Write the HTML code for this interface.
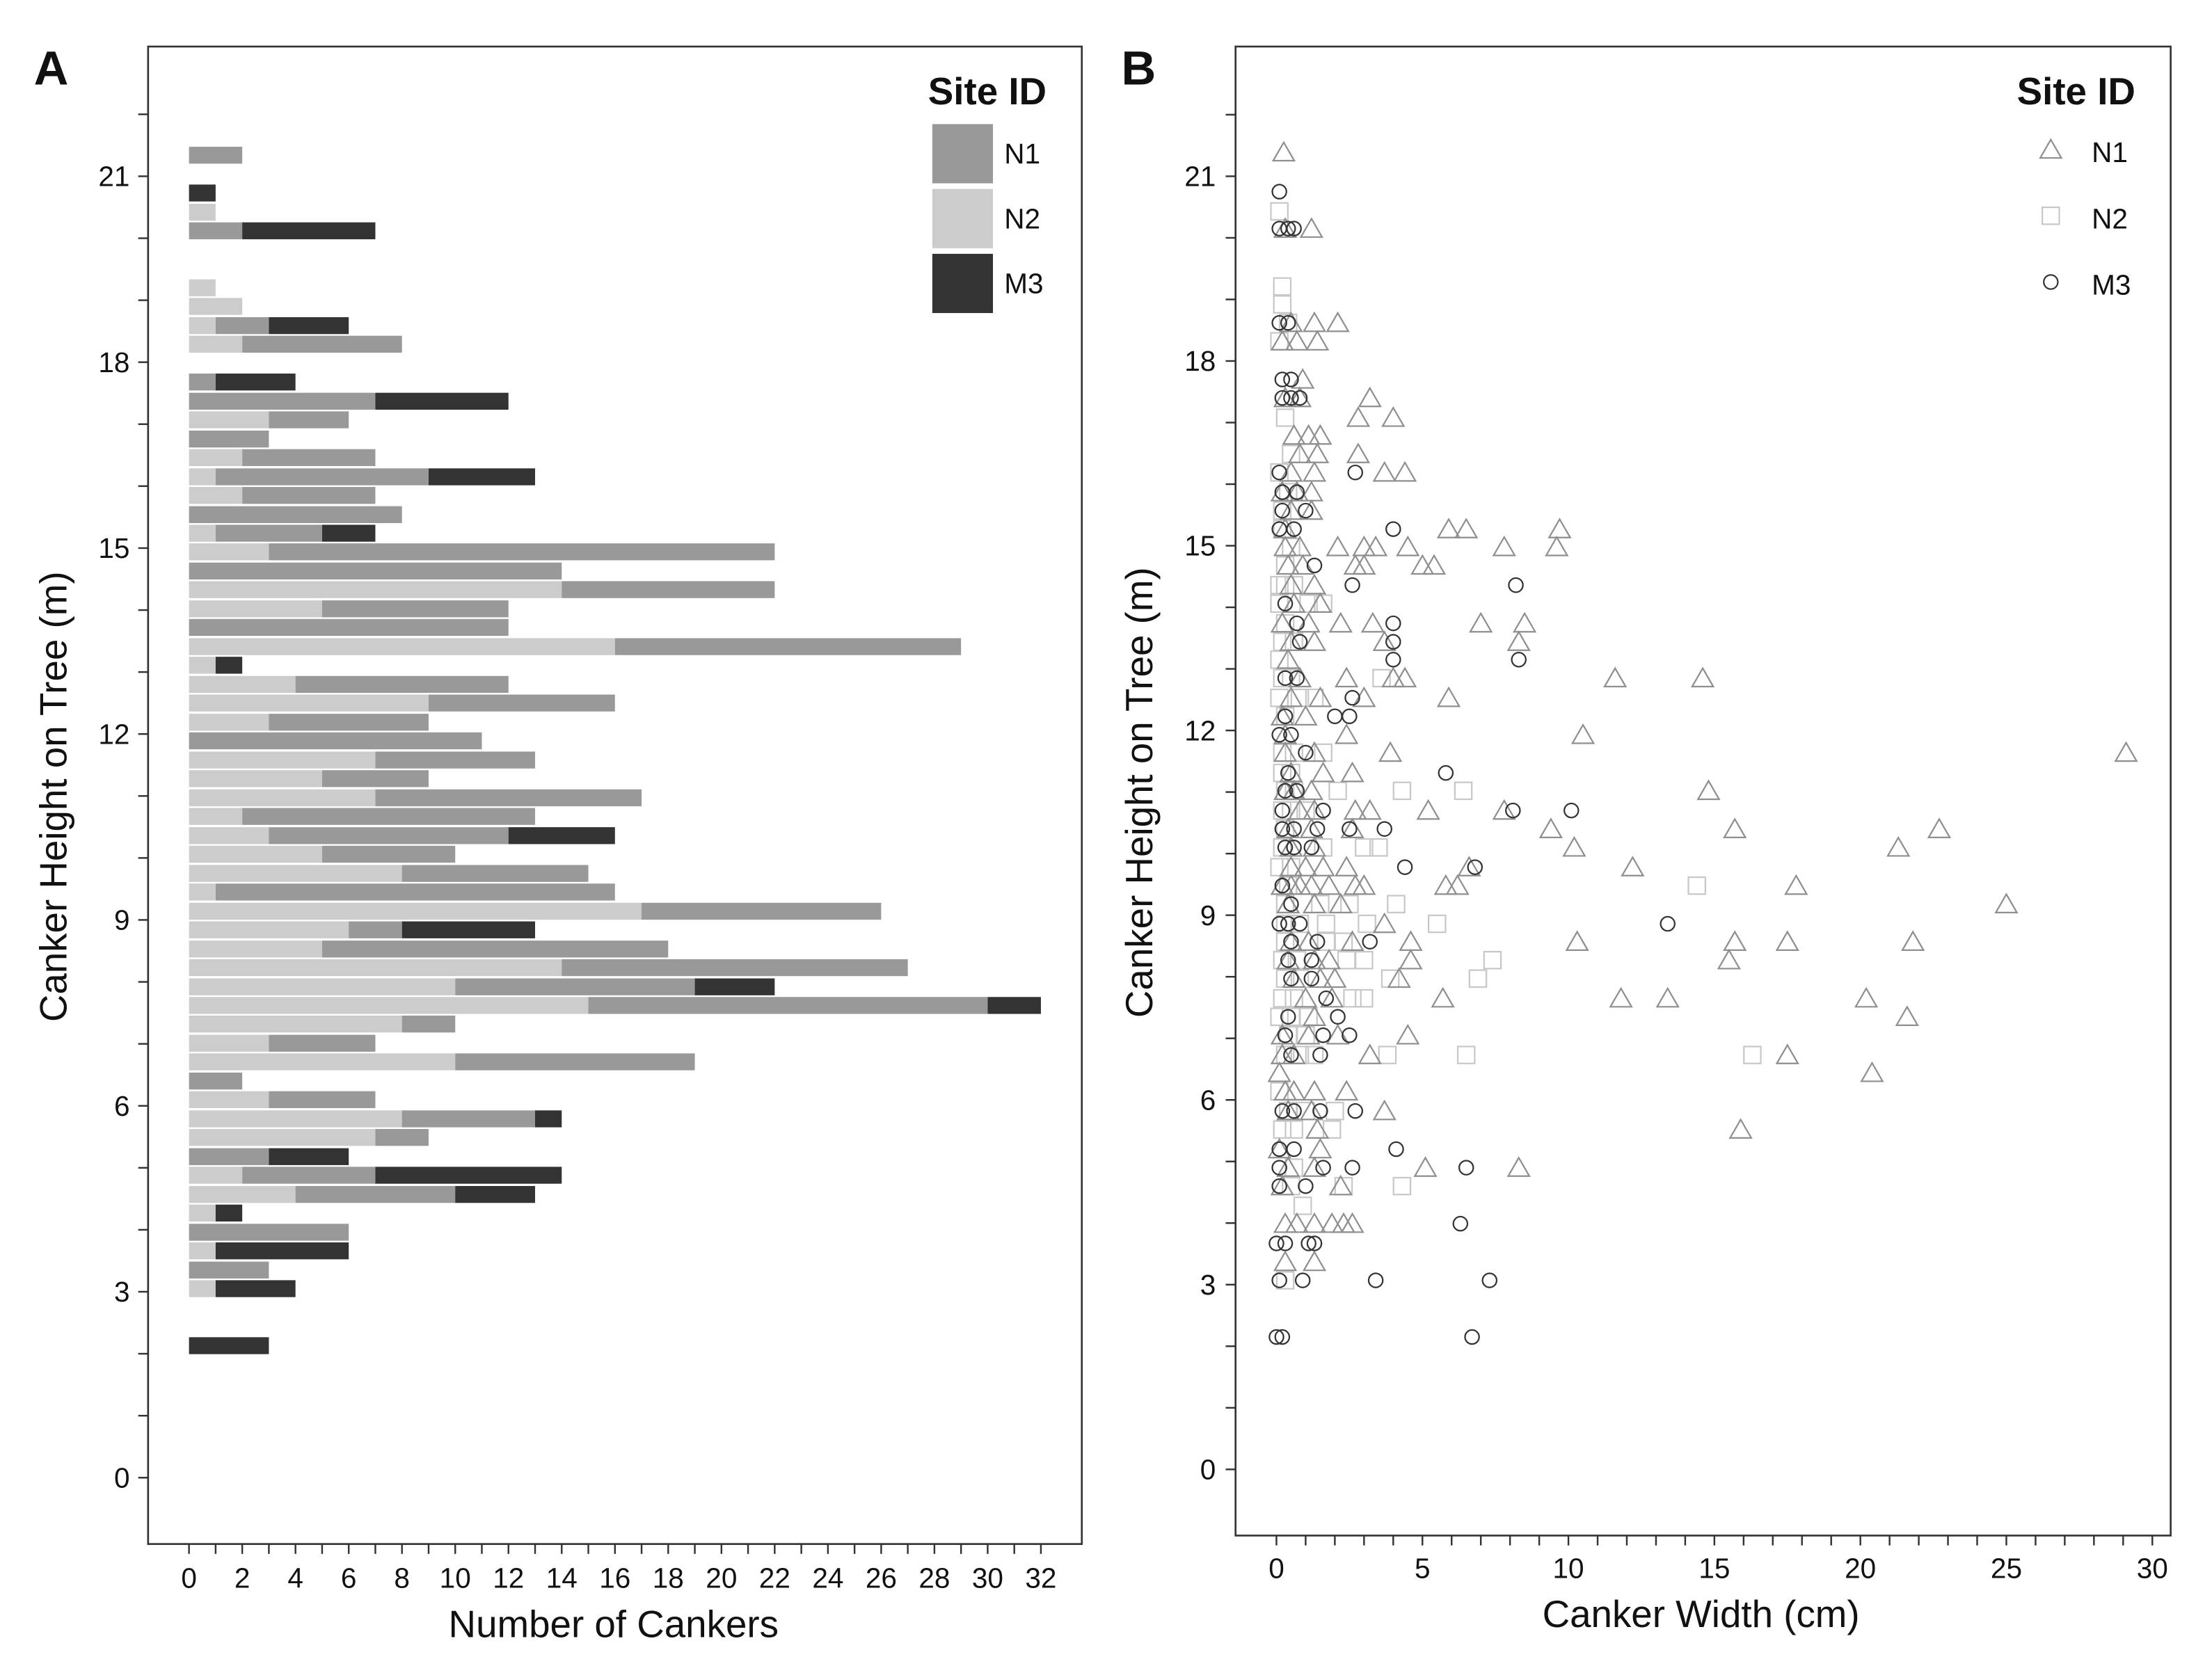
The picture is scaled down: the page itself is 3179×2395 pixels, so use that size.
<!DOCTYPE html>
<html><head><meta charset="utf-8"><style>
html,body{margin:0;padding:0;background:#fff}
svg{display:block}
text{font-family:"Liberation Sans",Arial,sans-serif;fill:#111}
</style></head><body>
<svg id="fig" xmlns="http://www.w3.org/2000/svg" width="3179" height="2395" viewBox="0 0 1568.3 1181.5">
<rect x="0" y="0" width="1568.3" height="1181.5" fill="#fff"/>
<g id="pa"></g>
<g id="pb"></g>
</svg>
<script>
// Panel A data
const barHeights=[21.34,20.73,20.42,20.12,19.20,18.90,18.59,18.29,17.68,17.37,17.07,16.76,16.46,16.15,15.85,15.54,15.24,14.94,14.63,14.33,14.02,13.72,13.41,13.11,12.80,12.50,12.19,11.89,11.58,11.28,10.97,10.67,10.36,10.06,9.75,9.45,9.14,8.84,8.53,8.23,7.92,7.62,7.32,7.01,6.71,6.40,6.10,5.79,5.49,5.18,4.88,4.57,4.27,3.96,3.66,3.35,3.05,2.13];
const countN2=[0,0,1,0,1,2,1,2,0,0,3,0,2,1,2,0,1,3,0,14,5,0,16,1,4,9,3,0,7,5,7,2,3,5,8,1,17,6,5,14,10,15,8,3,10,0,3,8,7,0,2,4,1,0,1,0,1,0];
const countN1=[2,0,0,2,0,0,2,6,1,7,3,3,5,8,5,8,4,19,14,8,7,12,13,0,8,7,6,11,6,4,10,11,9,5,7,15,9,2,13,13,9,15,2,4,9,2,4,5,2,3,5,6,0,6,0,3,0,0];
const countM3=[0,1,0,5,0,0,3,0,3,5,0,0,0,4,0,0,2,0,0,0,0,0,0,1,0,0,0,0,0,0,0,0,4,0,0,0,0,5,0,0,3,2,0,0,0,0,0,1,0,3,7,3,1,0,5,0,3,3];
const xTicksA=[0,2,4,6,8,10,12,14,16,18,20,22,24,26,28,30,32];
const yTickLabels=[0,3,6,9,12,15,18,21];
// Panel B data
const ptsN1=[[0.25,21.39],[1.2,20.15],[0.3,20.15],[2.1,18.62],[0.5,18.62],[1.3,18.62],[0.2,18.32],[0.7,18.32],[1.4,18.32],[0.9,17.7],[0.3,17.4],[0.8,17.4],[3.2,17.4],[2.8,17.08],[4.0,17.08],[0.6,16.79],[1.1,16.79],[1.5,16.79],[0.8,16.49],[1.4,16.49],[2.8,16.49],[1.3,16.19],[3.7,16.19],[4.4,16.19],[0.5,16.19],[0.7,15.87],[1.2,15.87],[0.2,15.87],[0.5,15.57],[1.2,15.57],[0.3,15.27],[5.9,15.27],[6.5,15.27],[9.7,15.27],[0.3,14.98],[0.8,14.98],[2.1,14.98],[3.0,14.98],[3.4,14.98],[4.5,14.98],[7.8,14.98],[9.6,14.98],[0.4,14.68],[0.9,14.68],[2.7,14.68],[3.0,14.68],[5.0,14.68],[5.4,14.68],[0.5,14.36],[1.3,14.36],[0.6,14.06],[1.5,14.06],[0.2,13.74],[1.1,13.74],[2.2,13.74],[3.3,13.74],[7.0,13.74],[8.5,13.74],[0.5,13.44],[1.3,13.44],[3.7,13.44],[8.3,13.44],[0.4,13.15],[0.8,12.85],[2.4,12.85],[4.0,12.85],[4.4,12.85],[11.6,12.85],[14.6,12.85],[0.5,12.53],[1.5,12.53],[3.0,12.53],[5.9,12.53],[0.2,12.23],[1.0,12.23],[0.3,11.93],[2.4,11.93],[10.5,11.93],[0.3,11.64],[1.3,11.64],[3.9,11.64],[29.1,11.64],[0.5,11.31],[1.6,11.31],[2.6,11.31],[0.3,11.02],[0.6,11.02],[1.2,11.02],[14.8,11.02],[0.8,10.7],[1.3,10.7],[2.7,10.7],[3.2,10.7],[5.2,10.7],[7.8,10.7],[0.4,10.4],[1.2,10.4],[2.6,10.4],[9.4,10.4],[15.7,10.4],[22.7,10.4],[0.5,10.1],[1.3,10.1],[10.2,10.1],[21.3,10.1],[0.5,9.78],[1.0,9.78],[1.6,9.78],[2.4,9.78],[6.6,9.78],[12.2,9.78],[0.2,9.48],[0.5,9.48],[0.8,9.48],[1.2,9.48],[1.8,9.48],[2.7,9.48],[3.0,9.48],[5.8,9.48],[6.2,9.48],[17.8,9.48],[0.4,9.18],[1.3,9.18],[2.2,9.18],[25.0,9.18],[3.7,8.86],[0.5,8.57],[1.1,8.57],[2.6,8.57],[4.6,8.57],[10.3,8.57],[15.7,8.57],[17.5,8.57],[21.8,8.57],[0.4,8.27],[1.3,8.27],[1.8,8.27],[4.6,8.27],[15.5,8.27],[0.6,7.97],[1.5,7.97],[2.0,7.97],[4.2,7.97],[1.0,7.65],[1.9,7.65],[5.7,7.65],[11.8,7.65],[13.4,7.65],[20.2,7.65],[1.3,7.35],[21.6,7.35],[0.2,7.05],[1.1,7.05],[2.1,7.05],[4.5,7.05],[0.2,6.73],[0.6,6.73],[3.2,6.73],[17.5,6.73],[0.1,6.44],[20.4,6.44],[0.3,6.14],[0.6,6.14],[1.3,6.14],[2.4,6.14],[0.4,5.82],[1.2,5.82],[3.7,5.82],[1.4,5.52],[15.9,5.52],[0.1,5.2],[1.5,5.2],[0.4,4.9],[1.3,4.9],[5.1,4.9],[8.3,4.9],[0.2,4.6],[2.2,4.6],[0.3,3.99],[0.7,3.99],[1.3,3.99],[1.9,3.99],[2.3,3.99],[2.6,3.99],[0.3,3.37],[1.3,3.37]];
const ptsN2=[[0.1,20.43],[0.2,19.21],[0.2,18.92],[0.4,18.62],[0.1,18.32],[0.3,17.08],[0.5,16.49],[0.1,16.19],[0.4,15.87],[0.2,15.57],[0.2,15.27],[0.5,14.98],[0.3,14.68],[0.1,14.36],[0.3,14.36],[0.6,14.36],[0.1,14.06],[1.1,14.06],[1.6,14.06],[0.3,13.74],[0.2,13.44],[0.6,13.44],[0.1,13.15],[0.2,12.85],[0.5,12.85],[3.6,12.85],[0.1,12.53],[0.8,12.53],[1.3,12.53],[0.3,12.23],[0.2,11.64],[0.6,11.64],[1.6,11.64],[0.2,11.31],[0.5,11.31],[0.3,11.02],[0.6,11.02],[2.1,11.02],[4.3,11.02],[6.4,11.02],[0.2,10.7],[0.5,10.7],[1.0,10.7],[0.3,10.4],[0.2,10.1],[1.6,10.1],[3.0,10.1],[3.5,10.1],[0.1,9.78],[0.5,9.78],[0.4,9.48],[14.4,9.48],[0.3,9.18],[1.5,9.18],[2.5,9.18],[4.1,9.18],[0.3,8.86],[0.8,8.86],[1.7,8.86],[3.1,8.86],[5.5,8.86],[0.3,8.57],[1.7,8.57],[2.3,8.57],[0.2,8.27],[0.7,8.27],[2.4,8.27],[3.0,8.27],[7.4,8.27],[0.3,7.97],[0.8,7.97],[3.9,7.97],[6.9,7.97],[0.2,7.65],[0.6,7.65],[2.6,7.65],[3.0,7.65],[0.1,7.35],[0.5,7.35],[1.1,7.35],[0.4,7.05],[1.0,7.05],[0.3,6.73],[0.8,6.73],[1.3,6.73],[3.8,6.73],[6.5,6.73],[16.3,6.73],[0.1,6.14],[0.4,5.82],[1.0,5.82],[2.0,5.82],[0.2,5.52],[0.6,5.52],[1.9,5.52],[0.6,4.9],[0.5,4.6],[2.3,4.6],[4.3,4.6],[0.9,4.28],[0.3,3.07]];
const ptsM3=[[0.1,20.75],[0.1,20.15],[0.4,20.15],[0.6,20.15],[0.1,18.62],[0.4,18.62],[0.2,17.7],[0.5,17.7],[0.2,17.4],[0.5,17.4],[0.8,17.4],[0.1,16.19],[2.7,16.19],[0.2,15.87],[0.7,15.87],[0.2,15.57],[1.0,15.57],[0.1,15.27],[0.6,15.27],[4.0,15.27],[1.3,14.68],[2.6,14.36],[8.2,14.36],[0.3,14.06],[0.7,13.74],[4.0,13.74],[0.8,13.44],[4.0,13.44],[4.0,13.15],[8.3,13.15],[0.3,12.85],[0.7,12.85],[2.6,12.53],[0.3,12.23],[2.0,12.23],[2.5,12.23],[0.1,11.93],[0.5,11.93],[1.0,11.64],[0.4,11.31],[5.8,11.31],[0.3,11.02],[0.7,11.02],[0.2,10.7],[1.6,10.7],[8.1,10.7],[10.1,10.7],[0.2,10.4],[0.6,10.4],[1.4,10.4],[2.5,10.4],[3.7,10.4],[0.3,10.1],[0.6,10.1],[1.2,10.1],[4.4,9.78],[6.8,9.78],[0.2,9.48],[0.5,9.18],[0.1,8.86],[0.4,8.86],[0.8,8.86],[13.4,8.86],[0.5,8.57],[1.4,8.57],[3.2,8.57],[0.4,8.27],[1.2,8.27],[0.5,7.97],[1.2,7.97],[1.7,7.65],[0.4,7.35],[2.1,7.35],[0.3,7.05],[1.6,7.05],[2.5,7.05],[0.5,6.73],[1.5,6.73],[0.2,5.82],[0.6,5.82],[1.5,5.82],[2.7,5.82],[0.1,5.2],[0.6,5.2],[4.1,5.2],[0.1,4.9],[1.6,4.9],[2.6,4.9],[6.5,4.9],[0.1,4.6],[1.0,4.6],[6.3,3.99],[0.0,3.67],[0.3,3.67],[1.1,3.67],[1.3,3.67],[0.1,3.07],[0.9,3.07],[3.4,3.07],[7.3,3.07],[0.0,2.15],[0.2,2.15],[6.7,2.15]];
const xTicksB=[0,5,10,15,20,25,30];

const NS="http://www.w3.org/2000/svg";
function mk(parent,tag,attrs,txt){const e=document.createElementNS(NS,tag);for(const k in attrs)e.setAttribute(k,attrs[k]);if(txt!==undefined)e.textContent=txt;parent.appendChild(e);return e;}
const C={N1:"#999999",N2:"#cccccc",M3:"#333333"};

// ---------- Panel A ----------
const pa=document.getElementById('pa');
const xa=v=>134+v*18.875, ya=h=>125+(21-h)*43.95;
const boxA={l:105,t:33,r:767,b:1095};
for(let i=0;i<barHeights.length;i++){
  const segs=[["N2",countN2[i]],["N1",countN1[i]],["M3",countM3[i]]];
  let acc=0;
  for(const [s,c] of segs){
    if(c<=0)continue;
    const r=mk(pa,'rect',{x:xa(acc),y:ya(barHeights[i])-6,width:xa(acc+c)-xa(acc),height:12,fill:C[s]});
    
    
    acc+=c;
  }
}
const fa=mk(pa,'rect',{x:boxA.l,y:boxA.t,width:boxA.r-boxA.l,height:boxA.b-boxA.t,fill:'none',stroke:'#333','stroke-width':1.3});

for(let k=0;k<=22;k++){mk(pa,'line',{x1:boxA.l-7,x2:boxA.l,y1:ya(k),y2:ya(k),stroke:'#333','stroke-width':1.2});}
for(const v of yTickLabels){const t=mk(pa,'text',{x:92,y:ya(v)+7,'text-anchor':'end','font-size':20},String(v));}
for(let k=0;k<=32;k++){mk(pa,'line',{x1:xa(k),x2:xa(k),y1:boxA.b,y2:boxA.b+7,stroke:'#333','stroke-width':1.2});}
for(const v of xTicksA){const t=mk(pa,'text',{x:xa(v),y:1126,'text-anchor':'middle','font-size':20},String(v));}
let t=mk(pa,'text',{x:435,y:1161,'text-anchor':'middle','font-size':27},'Number of Cankers');
t=mk(pa,'text',{x:0,y:0,'text-anchor':'middle','font-size':27,transform:'translate(47,565) rotate(-90)'},'Canker Height on Tree (m)');
t=mk(pa,'text',{x:24,y:60,'font-size':34,'font-weight':'bold'},'A');
const lgA=mk(pa,'g',{});
mk(lgA,'text',{x:700,y:74,'text-anchor':'middle','font-size':27,'font-weight':'bold'},'Site ID');
[["N1",88],["N2",134],["M3",180]].forEach(([s,y])=>{
  const g=mk(lgA,'g',{});
  mk(g,'rect',{x:661,y:y,width:43,height:42,fill:C[s]});
  mk(g,'text',{x:712,y:y+28,'font-size':20},s);
});

// ---------- Panel B ----------
const pb=document.getElementById('pb');
const xb=v=>905+v*20.7, yb=h=>125+(21-h)*43.67;
const boxB={l:876,t:33,r:1539,b:1089};
function tri(g,cx,cy,col){return mk(g,'path',{d:`M${cx-7.5},${cy+6} L${cx+7.5},${cy+6} L${cx},${cy-7} Z`,fill:'none',stroke:col,'stroke-width':1.1});}
function sq(g,cx,cy,col){return mk(g,'rect',{x:cx-6,y:cy-6,width:12,height:12,fill:'none',stroke:col,'stroke-width':1.1});}
function circ(g,cx,cy,col){return mk(g,'circle',{cx:cx,cy:cy,r:5,fill:'none',stroke:col,'stroke-width':1.1});}
const gN2=mk(pb,'g',{});
for(const [w,h] of ptsN2){const e=sq(gN2,xb(w),yb(h),'#c8c8c8');}
const gN1=mk(pb,'g',{});
for(const [w,h] of ptsN1){const e=tri(gN1,xb(w),yb(h),'#8f8f8f');}
const gM3=mk(pb,'g',{});
for(const [w,h] of ptsM3){const e=circ(gM3,xb(w),yb(h),'#333');}
const fb=mk(pb,'rect',{x:boxB.l,y:boxB.t,width:boxB.r-boxB.l,height:boxB.b-boxB.t,fill:'none',stroke:'#333','stroke-width':1.3});

for(let k=0;k<=22;k++){mk(pb,'line',{x1:boxB.l-7,x2:boxB.l,y1:yb(k),y2:yb(k),stroke:'#333','stroke-width':1.2});}
for(const v of yTickLabels){const e=mk(pb,'text',{x:862,y:yb(v)+7,'text-anchor':'end','font-size':20},String(v));}
for(let k=0;k<=30;k++){mk(pb,'line',{x1:xb(k),x2:xb(k),y1:boxB.b,y2:boxB.b+7,stroke:'#333','stroke-width':1.2});}
for(const v of xTicksB){const e=mk(pb,'text',{x:xb(v),y:1119,'text-anchor':'middle','font-size':20},String(v));}
t=mk(pb,'text',{x:1206,y:1154,'text-anchor':'middle','font-size':27},'Canker Width (cm)');
t=mk(pb,'text',{x:0,y:0,'text-anchor':'middle','font-size':27,transform:'translate(817,562) rotate(-90)'},'Canker Height on Tree (m)');
t=mk(pb,'text',{x:795,y:60,'font-size':34,'font-weight':'bold'},'B');
const lgB=mk(pb,'g',{});
mk(lgB,'text',{x:1472,y:74,'text-anchor':'middle','font-size':27,'font-weight':'bold'},'Site ID');
let e1=mk(lgB,'g',{});
tri(e1,1454,106,'#8f8f8f');mk(e1,'text',{x:1483,y:115,'font-size':20},'N1');
let e2=mk(lgB,'g',{});
sq(e2,1454,153,'#c8c8c8');mk(e2,'text',{x:1483,y:162,'font-size':20},'N2');
let e3=mk(lgB,'g',{});
circ(e3,1454,200,'#333');mk(e3,'text',{x:1483,y:209,'font-size':20},'M3');
</script>
</body></html>
